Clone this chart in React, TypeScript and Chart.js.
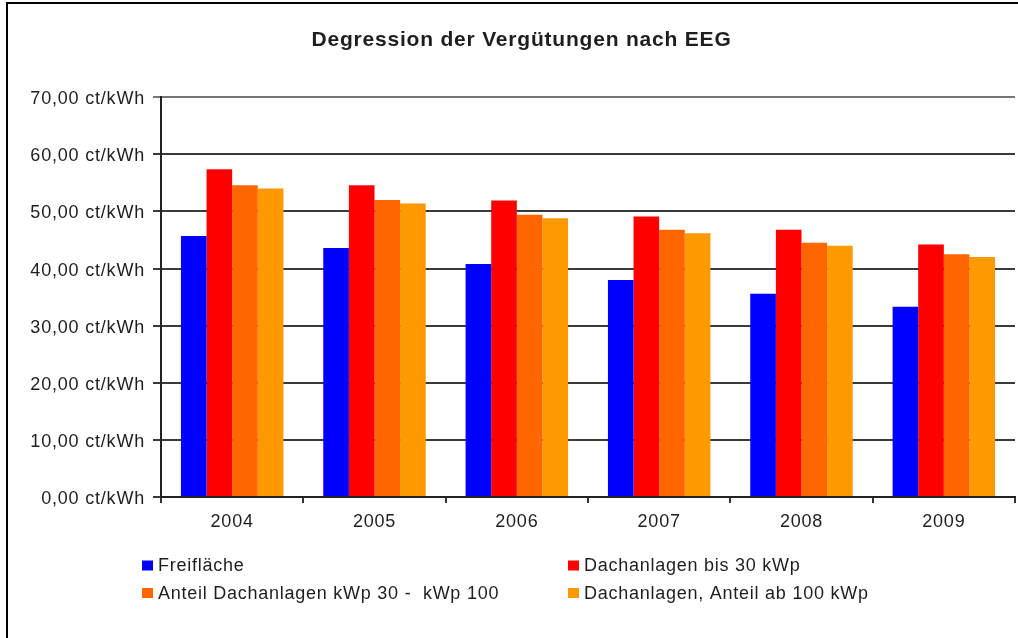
import React, { useEffect, useRef } from "react";
import { Chart, registerables } from "chart.js";

Chart.register(...registerables);

const categories = ["2004", "2005", "2006", "2007", "2008", "2009"];
const freiflaeche = [45.7, 43.6, 40.8, 38.0, 35.6, 33.3];
const dachBis30 = [57.4, 54.6, 51.9, 49.1, 46.8, 44.2];
const dach30bis100 = [54.6, 52.0, 49.4, 46.8, 44.5, 42.5];
const dachAb100 = [54.0, 51.4, 48.8, 46.2, 44.0, 42.0];

const seriesNames = [
  "Freifläche",
  "Dachanlagen bis 30 kWp",
  "Anteil Dachanlagen kWp 30 -  kWp 100",
  "Dachanlagen, Anteil ab 100 kWp",
];
const seriesColors = ["#0000ff", "#ff0000", "#ff6600", "#ff9900"];
const titleText = "Degression der Vergütungen nach EEG";
const yTicks = [0, 10, 20, 30, 40, 50, 60, 70];

const FONT = "'Liberation Sans', Arial, sans-serif";

const spacingPlugin = {
  id: "spacing",
  beforeUpdate(chart: any) {
    chart.ctx.letterSpacing = "0.8px";
  },
  beforeDraw(chart: any) {
    chart.ctx.letterSpacing = "0.8px";
  },
  afterLayout(chart: any) {
    if (chart.titleBlock) {
      chart.titleBlock.left += 14;
      chart.titleBlock.right += 14;
    }
  },
};

const legendPlugin = {
  id: "twoColLegend",
  afterDraw(chart: any) {
    const ctx = chart.ctx;
    const colX = [142, 568];
    const rowY = [565.5, 593];
    ctx.save();
    ctx.letterSpacing = "0.75px";
    ctx.font = `18px ${FONT}`;
    ctx.textBaseline = "middle";
    ctx.textAlign = "left";
    chart.data.datasets.forEach((ds: any, i: number) => {
      const col = i % 2;
      const row = Math.floor(i / 2);
      const x = colX[col];
      const y = rowY[row];
      ctx.fillStyle = ds.backgroundColor;
      ctx.fillRect(x, y - 5, 11, 10);
      ctx.fillStyle = "#1e1e1e";
      ctx.fillText(ds.label, x + 16, y + 1);
    });
    ctx.restore();
  },
};

export default function App() {
  const ref = useRef<HTMLCanvasElement>(null);
  useEffect(() => {
    if (!ref.current) return;
    const seriesData = [freiflaeche, dachBis30, dach30bis100, dachAb100];
    const chart = new Chart(ref.current, {
      type: "bar",
      data: {
        labels: categories,
        datasets: seriesData.map((d, i) => ({
          label: seriesNames[i],
          data: d,
          backgroundColor: seriesColors[i],
          borderWidth: 0,
          categoryPercentage: 0.72,
          barPercentage: 1.0,
        })),
      },
      options: {
        responsive: false,
        animation: false,
        devicePixelRatio: 1,
        layout: { padding: { left: 0, right: 3, top: 0, bottom: 0 } },
        plugins: {
          legend: { display: false },
          tooltip: { enabled: false },
          title: {
            display: true,
            text: titleText,
            color: "#1e1e1e",
            font: { family: FONT, size: 21, weight: "bold", lineHeight: 1.2 },
            padding: { top: 28, bottom: 44 },
          },
        },
        scales: {
          x: {
            grid: {
              offset: true,
              drawOnChartArea: false,
              drawTicks: true,
              tickLength: 6,
              color: "#333",
              lineWidth: 2,
            },
            border: { display: true, color: "#222", width: 2 },
            ticks: {
              color: "#1e1e1e",
              font: { family: FONT, size: 18 },
              padding: 8,
              maxRotation: 0,
            },
            afterFit(scale: any) {
              scale.height = 141;
            },
          },
          y: {
            min: 0,
            max: 70,
            afterBuildTicks(scale: any) {
              scale.ticks = yTicks.map((v) => ({ value: v }));
            },
            grid: {
              color: (c: any) => (c.tick && c.tick.value === 70 ? "#777" : "#3a3a3a"),
              lineWidth: 2,
              drawTicks: true,
              tickLength: 8,
            },
            border: { display: true, color: "#222", width: 2 },
            ticks: {
              color: "#1e1e1e",
              font: { family: FONT, size: 18 },
              padding: 8,
              labelOffset: 2,
              callback: (v: any) => Number(v).toFixed(2).replace(".", ",") + " ct/kWh",
            },
            afterFit(scale: any) {
              scale.width = 161;
            },
          },
        },
      },
      plugins: [spacingPlugin, legendPlugin],
    } as any);
    return () => chart.destroy();
  }, []);

  return (
    <div
      style={{
        position: "fixed",
        left: 0,
        top: 0,
        width: 1018,
        height: 638,
        background: "#fff",
        overflow: "hidden",
      }}
    >
      <canvas ref={ref} width={1018} height={638} style={{ display: "block" }} />
      <div
        style={{
          position: "absolute",
          left: 6,
          top: 2,
          width: 1200,
          height: 800,
          borderLeft: "2px solid #000",
          borderTop: "2px solid #000",
          pointerEvents: "none",
        }}
      />
    </div>
  );
}
